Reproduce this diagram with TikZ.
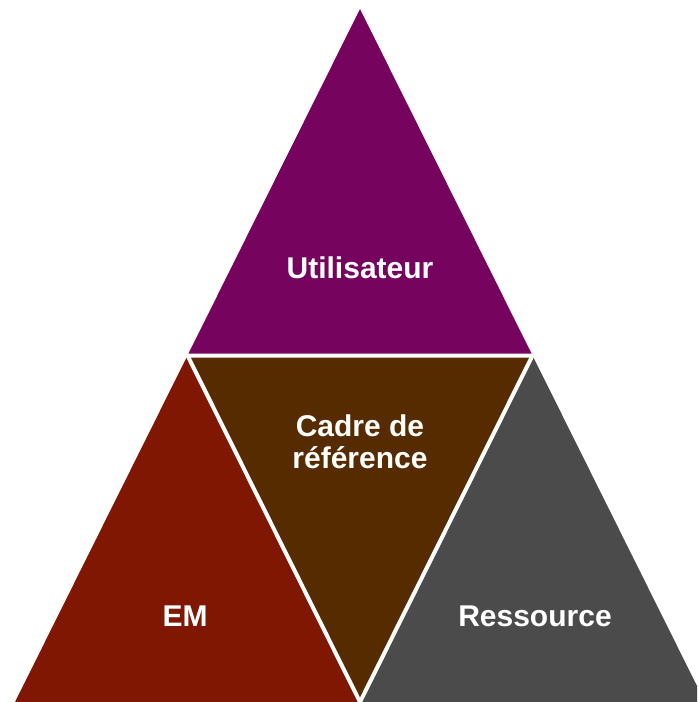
\documentclass[tikz,border=0pt]{standalone}
\usepackage{fontspec}
\setmainfont{Liberation Sans}
\definecolor{cpurple}{RGB}{118,4,94}
\definecolor{cbrown}{RGB}{86,43,0}
\definecolor{cred}{RGB}{127,23,2}
\definecolor{cgray}{RGB}{75,75,75}
\tikzset{
  lbl/.style={text=white, font=\fontsize{30}{32}\selectfont\bfseries, align=center, inner sep=0pt},
  sep/.style={draw=white, line width=4pt, line join=miter},
}
\begin{document}
\begin{tikzpicture}[x=1pt,y=-1pt]
\useasboundingbox (0,0) rectangle (697,702);
\clip (0,0) rectangle (697,702);
\coordinate (A) at (360,9);
\coordinate (B) at (15,702);
\coordinate (C) at (705,702);
\coordinate (MAB) at (187.5,355.5);
\coordinate (MAC) at (532.5,355.5);
\coordinate (MBC) at (360,702);
\fill[cpurple] (A) -- (MAB) -- (MAC) -- cycle;
\fill[cred] (MAB) -- (B) -- (MBC) -- cycle;
\fill[cbrown] (MAB) -- (MAC) -- (MBC) -- cycle;
\fill[cgray] (MAC) -- (MBC) -- (C) -- cycle;
\draw[sep] (MAB) -- (MAC) -- (MBC) -- cycle;
\node[lbl] (u) at (360,268) {Utilisateur};
\node[lbl] (c) at (360,442) {Cadre de\\référence};
\node[lbl] (e) at (185,616) {EM};
\node[lbl] (r) at (535,616) {Ressource};
\end{tikzpicture}
\end{document}
